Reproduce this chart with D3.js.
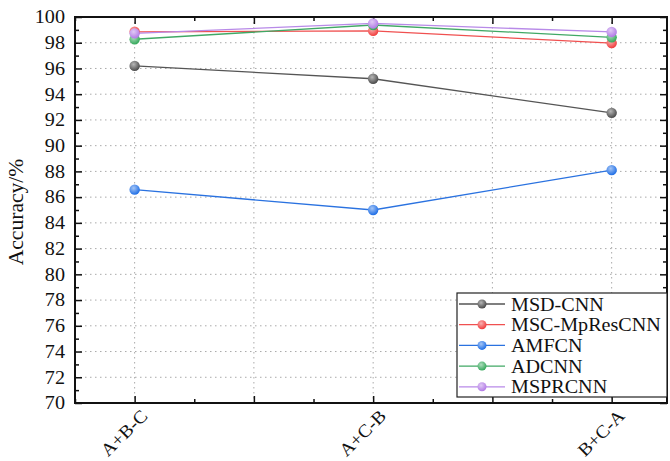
<!DOCTYPE html>
<html><head><meta charset="utf-8">
<script src="https://cdn.jsdelivr.net/npm/d3@7"></script>
<style>body{margin:0;background:#fff}svg{display:block}text{font-family:"Liberation Serif","Times New Roman",serif;fill:#111}</style>
</head><body><svg id="c" width="670" height="461"></svg>
<script>
const categories = ["A+B-C","A+C-B","B+C-A"];
const seriesNames = ["MSD-CNN","MSC-MpResCNN","AMFCN","ADCNN","MSPRCNN"];
const msdCnn = [96.2, 95.2, 92.55];
const mscMpResCnn = [98.85, 98.92, 97.97];
const amfcn = [86.58, 85.0, 88.1];
const adcnn = [98.27, 99.38, 98.42];
const msprcnn = [98.73, 99.5, 98.84];
const yTicks = [70,72,74,76,78,80,82,84,86,88,90,92,94,96,98,100];
const colors = ["#4a4a4a","#f03c3c","#1e6ee6","#34a85a","#b27ae6"];
const lineColors = ["#555555","#f05050","#2a72e0","#40a865","#b88ae8"];
const allSeries = [msdCnn, mscMpResCnn, amfcn, adcnn, msprcnn];

const svg = d3.select("#c");
const L=75, R=667, T=17, B=403;
const x = d3.scaleLinear().domain([0.75, 3.232]).range([L, R]);
const y = d3.scaleLinear().domain([70, 100]).range([B, T]);

const defs = svg.append("defs");
colors.forEach((c,i)=>{
  const g = defs.append("radialGradient").attr("id","g"+i).attr("cx","40%").attr("cy","35%").attr("r","65%");
  g.append("stop").attr("offset","0%").attr("stop-color", d3.interpolateRgb(c,"#fff")(0.6));
  g.append("stop").attr("offset","100%").attr("stop-color", c);
});

// grid
const xMajor = d3.range(1, 3.01, 0.5);
const xMinor = d3.range(0.75, 3.3, 0.25).filter(v=>Math.abs((v*2)-Math.round(v*2))>0.01);
svg.append("g").selectAll("line").data(yTicks.filter(v=>v>70&&v<100)).join("line")
  .attr("x1",L).attr("x2",R).attr("y1",d=>y(d)).attr("y2",d=>y(d))
  .attr("stroke","#aaa").attr("stroke-width",1).attr("stroke-dasharray","1.5,3.5");
svg.append("g").selectAll("line").data(xMajor).join("line")
  .attr("x1",d=>x(d)).attr("x2",d=>x(d)).attr("y1",T).attr("y2",B)
  .attr("stroke","#aaa").attr("stroke-width",1).attr("stroke-dasharray","1.5,3.5");

// axes with inward ticks
const yMinor = d3.range(71, 100, 2);
const ax = svg.append("g").attr("stroke","#111");
function noDom(g){ g.select(".domain").remove(); }
ax.append("g").attr("transform",`translate(${L},0)`)
  .call(d3.axisRight(y).tickValues(yTicks).tickSize(7).tickFormat("")).call(noDom);
ax.append("g").attr("transform",`translate(${L},0)`)
  .call(d3.axisRight(y).tickValues(yMinor).tickSize(4).tickFormat("")).call(noDom);
ax.append("g").attr("transform",`translate(${R},0)`)
  .call(d3.axisLeft(y).tickValues(yTicks).tickSize(7).tickFormat("")).call(noDom);
ax.append("g").attr("transform",`translate(${R},0)`)
  .call(d3.axisLeft(y).tickValues(yMinor).tickSize(4).tickFormat("")).call(noDom);
ax.append("g").attr("transform",`translate(0,${B})`)
  .call(d3.axisTop(x).tickValues(xMajor).tickSize(7).tickFormat("")).call(noDom);
ax.append("g").attr("transform",`translate(0,${B})`)
  .call(d3.axisTop(x).tickValues(xMinor).tickSize(4).tickFormat("")).call(noDom);
ax.append("g").attr("transform",`translate(0,${T})`)
  .call(d3.axisBottom(x).tickValues(xMajor).tickSize(7).tickFormat("")).call(noDom);
ax.append("g").attr("transform",`translate(0,${T})`)
  .call(d3.axisBottom(x).tickValues(xMinor).tickSize(4).tickFormat("")).call(noDom);
svg.selectAll(".tick line").attr("stroke","#111").attr("stroke-width",1.5);
svg.append("rect").attr("x",L).attr("y",T).attr("width",R-L).attr("height",B-T)
  .attr("fill","none").attr("stroke","#111").attr("stroke-width",2);

// y labels
svg.append("g").selectAll("text").data(yTicks).join("text")
  .attr("transform",d=>`translate(${L-10},${y(d)}) scale(1.12,1)`)
  .attr("dy","0.35em").attr("text-anchor","end")
  .attr("font-size",18).text(d=>d);
// x labels
svg.append("g").selectAll("text").data(categories).join("text")
  .attr("transform",(d,i)=>`translate(${x(i+1)+14},${B+14}) rotate(-45) scale(1.08,1)`)
  .attr("text-anchor","end").attr("font-size",18).text(d=>d);
// y title
svg.append("text").attr("transform",`translate(23,${(T+B)/2+2}) rotate(-90) scale(1.08,1)`)
  .attr("text-anchor","middle").attr("font-size",20).text("Accuracy/%");

// series
const line = d3.line().x((d,i)=>x(i+1)).y(d=>y(d));
allSeries.forEach((s,k)=>{
  svg.append("path").attr("d",line(s)).attr("fill","none").attr("stroke",lineColors[k]).attr("stroke-width",1.3);
});
allSeries.forEach((s,k)=>{
  svg.append("g").selectAll("circle").data(s).join("circle")
    .attr("cx",(d,i)=>x(i+1)).attr("cy",d=>y(d)).attr("r",5.2).attr("fill",`url(#g${k})`);
});

// legend
const lg = svg.append("g");
lg.append("rect").attr("x",457).attr("y",293).attr("width",R-457).attr("height",104)
  .attr("fill","#fff").attr("stroke","#222").attr("stroke-width",1.2);
seriesNames.forEach((n,k)=>{
  const yy = 304 + k*20.7;
  lg.append("line").attr("x1",459).attr("x2",505).attr("y1",yy).attr("y2",yy).attr("stroke",lineColors[k]).attr("stroke-width",1.3);
  lg.append("circle").attr("cx",482).attr("cy",yy).attr("r",4.5).attr("fill",`url(#g${k})`);
  lg.append("text").attr("transform",`translate(511,${yy}) scale(1.06,1)`).attr("dy","0.35em").attr("font-size",19).text(n);
});
</script></body></html>
